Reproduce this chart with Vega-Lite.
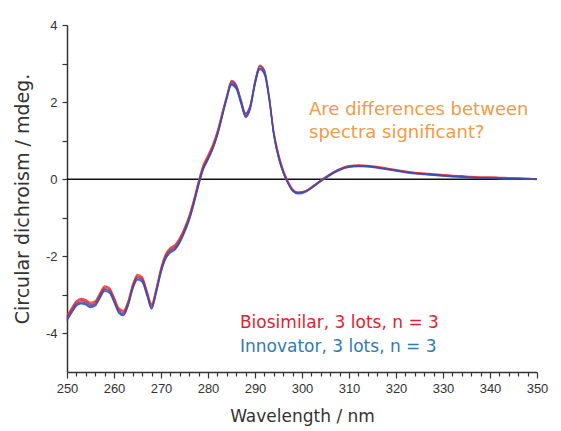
{
  "$schema": "https://vega.github.io/schema/vega-lite/v6.json",
  "width": 470,
  "height": 347,
  "autosize": "none",
  "padding": {"left": 67, "top": 25, "right": 24, "bottom": 59},
  "background": "white",
  "config": {"view": {"stroke": null}},
  "datasets": {
    "cd": [
      {"wl":250,"b1":-3.56,"b2":-3.53,"b3":-3.59,"i1":-3.62,"i2":-3.65,"i3":-3.67},
      {"wl":251,"b1":-3.36,"b2":-3.33,"b3":-3.39,"i1":-3.42,"i2":-3.45,"i3":-3.47},
      {"wl":252,"b1":-3.18,"b2":-3.15,"b3":-3.21,"i1":-3.24,"i2":-3.27,"i3":-3.29},
      {"wl":253,"b1":-3.12,"b2":-3.09,"b3":-3.15,"i1":-3.18,"i2":-3.21,"i3":-3.23},
      {"wl":254,"b1":-3.15,"b2":-3.12,"b3":-3.18,"i1":-3.21,"i2":-3.24,"i3":-3.26},
      {"wl":255,"b1":-3.22,"b2":-3.19,"b3":-3.25,"i1":-3.28,"i2":-3.31,"i3":-3.33},
      {"wl":256,"b1":-3.18,"b2":-3.15,"b3":-3.21,"i1":-3.24,"i2":-3.27,"i3":-3.29},
      {"wl":257,"b1":-2.98,"b2":-2.95,"b3":-3.01,"i1":-3.04,"i2":-3.07,"i3":-3.09},
      {"wl":258,"b1":-2.80,"b2":-2.77,"b3":-2.83,"i1":-2.86,"i2":-2.89,"i3":-2.91},
      {"wl":259,"b1":-2.84,"b2":-2.81,"b3":-2.87,"i1":-2.90,"i2":-2.93,"i3":-2.95},
      {"wl":260,"b1":-3.08,"b2":-3.05,"b3":-3.11,"i1":-3.14,"i2":-3.17,"i3":-3.19},
      {"wl":261,"b1":-3.36,"b2":-3.33,"b3":-3.39,"i1":-3.42,"i2":-3.45,"i3":-3.47},
      {"wl":262,"b1":-3.43,"b2":-3.40,"b3":-3.46,"i1":-3.49,"i2":-3.52,"i3":-3.54},
      {"wl":263,"b1":-3.18,"b2":-3.15,"b3":-3.21,"i1":-3.24,"i2":-3.27,"i3":-3.29},
      {"wl":264,"b1":-2.74,"b2":-2.71,"b3":-2.77,"i1":-2.80,"i2":-2.83,"i3":-2.85},
      {"wl":265,"b1":-2.50,"b2":-2.47,"b3":-2.53,"i1":-2.56,"i2":-2.59,"i3":-2.61},
      {"wl":266,"b1":-2.56,"b2":-2.53,"b3":-2.59,"i1":-2.62,"i2":-2.65,"i3":-2.67},
      {"wl":267,"b1":-2.91,"b2":-2.88,"b3":-2.94,"i1":-2.97,"i2":-3.00,"i3":-3.02},
      {"wl":268,"b1":-3.26,"b2":-3.23,"b3":-3.29,"i1":-3.32,"i2":-3.35,"i3":-3.37},
      {"wl":269,"b1":-2.84,"b2":-2.81,"b3":-2.87,"i1":-2.90,"i2":-2.93,"i3":-2.95},
      {"wl":270,"b1":-2.32,"b2":-2.29,"b3":-2.35,"i1":-2.38,"i2":-2.41,"i3":-2.43},
      {"wl":271,"b1":-1.96,"b2":-1.93,"b3":-1.99,"i1":-2.02,"i2":-2.05,"i3":-2.07},
      {"wl":272,"b1":-1.80,"b2":-1.77,"b3":-1.83,"i1":-1.86,"i2":-1.89,"i3":-1.91},
      {"wl":273,"b1":-1.72,"b2":-1.69,"b3":-1.75,"i1":-1.78,"i2":-1.81,"i3":-1.83},
      {"wl":274,"b1":-1.54,"b2":-1.51,"b3":-1.57,"i1":-1.60,"i2":-1.63,"i3":-1.65},
      {"wl":275,"b1":-1.28,"b2":-1.25,"b3":-1.31,"i1":-1.34,"i2":-1.37,"i3":-1.39},
      {"wl":276,"b1":-0.96,"b2":-0.93,"b3":-0.99,"i1":-1.02,"i2":-1.05,"i3":-1.07},
      {"wl":277,"b1":-0.54,"b2":-0.51,"b3":-0.57,"i1":-0.60,"i2":-0.63,"i3":-0.65},
      {"wl":278,"b1":-0.06,"b2":-0.03,"b3":-0.09,"i1":-0.12,"i2":-0.15,"i3":-0.17},
      {"wl":279,"b1":0.35,"b2":0.38,"b3":0.32,"i1":0.28,"i2":0.25,"i3":0.27},
      {"wl":280,"b1":0.60,"b2":0.63,"b3":0.57,"i1":0.53,"i2":0.50,"i3":0.52},
      {"wl":281,"b1":0.87,"b2":0.90,"b3":0.84,"i1":0.80,"i2":0.77,"i3":0.79},
      {"wl":282,"b1":1.23,"b2":1.26,"b3":1.20,"i1":1.16,"i2":1.13,"i3":1.15},
      {"wl":283,"b1":1.70,"b2":1.73,"b3":1.67,"i1":1.63,"i2":1.60,"i3":1.62},
      {"wl":284,"b1":2.15,"b2":2.18,"b3":2.12,"i1":2.10,"i2":2.14,"i3":2.07},
      {"wl":285,"b1":2.52,"b2":2.56,"b3":2.48,"i1":2.47,"i2":2.54,"i3":2.44},
      {"wl":286,"b1":2.42,"b2":2.46,"b3":2.38,"i1":2.37,"i2":2.44,"i3":2.34},
      {"wl":287,"b1":2.04,"b2":2.08,"b3":2.00,"i1":1.99,"i2":2.06,"i3":1.96},
      {"wl":288,"b1":1.68,"b2":1.72,"b3":1.64,"i1":1.63,"i2":1.70,"i3":1.60},
      {"wl":289,"b1":1.90,"b2":1.94,"b3":1.86,"i1":1.85,"i2":1.92,"i3":1.82},
      {"wl":290,"b1":2.52,"b2":2.56,"b3":2.48,"i1":2.47,"i2":2.54,"i3":2.44},
      {"wl":291,"b1":2.92,"b2":2.96,"b3":2.88,"i1":2.87,"i2":2.94,"i3":2.84},
      {"wl":292,"b1":2.80,"b2":2.84,"b3":2.76,"i1":2.75,"i2":2.82,"i3":2.72},
      {"wl":293,"b1":2.14,"b2":2.18,"b3":2.10,"i1":2.09,"i2":2.16,"i3":2.06},
      {"wl":294,"b1":1.22,"b2":1.25,"b3":1.19,"i1":1.16,"i2":1.13,"i3":1.15},
      {"wl":295,"b1":0.64,"b2":0.67,"b3":0.61,"i1":0.58,"i2":0.55,"i3":0.57},
      {"wl":296,"b1":0.23,"b2":0.25,"b3":0.21,"i1":0.18,"i2":0.16,"i3":0.17},
      {"wl":297,"b1":-0.06,"b2":-0.04,"b3":-0.07,"i1":-0.09,"i2":-0.11,"i3":-0.10},
      {"wl":298,"b1":-0.27,"b2":-0.25,"b3":-0.28,"i1":-0.29,"i2":-0.31,"i3":-0.30},
      {"wl":299,"b1":-0.34,"b2":-0.33,"b3":-0.36,"i1":-0.36,"i2":-0.38,"i3":-0.35},
      {"wl":300,"b1":-0.33,"b2":-0.32,"b3":-0.35,"i1":-0.35,"i2":-0.37,"i3":-0.34},
      {"wl":301,"b1":-0.29,"b2":-0.28,"b3":-0.30,"i1":-0.31,"i2":-0.32,"i3":-0.30},
      {"wl":302,"b1":-0.21,"b2":-0.20,"b3":-0.22,"i1":-0.23,"i2":-0.24,"i3":-0.22},
      {"wl":303,"b1":-0.12,"b2":-0.11,"b3":-0.13,"i1":-0.14,"i2":-0.15,"i3":-0.13},
      {"wl":304,"b1":-0.03,"b2":-0.02,"b3":-0.04,"i1":-0.05,"i2":-0.06,"i3":-0.04},
      {"wl":305,"b1":0.05,"b2":0.06,"b3":0.04,"i1":0.03,"i2":0.02,"i3":0.04},
      {"wl":306,"b1":0.13,"b2":0.14,"b3":0.12,"i1":0.11,"i2":0.10,"i3":0.12},
      {"wl":307,"b1":0.20,"b2":0.21,"b3":0.19,"i1":0.18,"i2":0.17,"i3":0.19},
      {"wl":308,"b1":0.26,"b2":0.27,"b3":0.25,"i1":0.24,"i2":0.23,"i3":0.25},
      {"wl":309,"b1":0.31,"b2":0.32,"b3":0.30,"i1":0.29,"i2":0.28,"i3":0.30},
      {"wl":310,"b1":0.34,"b2":0.35,"b3":0.33,"i1":0.32,"i2":0.31,"i3":0.33},
      {"wl":312,"b1":0.36,"b2":0.37,"b3":0.35,"i1":0.34,"i2":0.33,"i3":0.35},
      {"wl":314,"b1":0.35,"b2":0.36,"b3":0.34,"i1":0.33,"i2":0.32,"i3":0.34},
      {"wl":316,"b1":0.32,"b2":0.33,"b3":0.31,"i1":0.30,"i2":0.29,"i3":0.31},
      {"wl":318,"b1":0.28,"b2":0.29,"b3":0.27,"i1":0.26,"i2":0.25,"i3":0.27},
      {"wl":320,"b1":0.24,"b2":0.25,"b3":0.23,"i1":0.22,"i2":0.21,"i3":0.23},
      {"wl":322,"b1":0.20,"b2":0.21,"b3":0.19,"i1":0.18,"i2":0.17,"i3":0.19},
      {"wl":324,"b1":0.17,"b2":0.18,"b3":0.16,"i1":0.15,"i2":0.14,"i3":0.16},
      {"wl":326,"b1":0.15,"b2":0.16,"b3":0.14,"i1":0.13,"i2":0.12,"i3":0.14},
      {"wl":328,"b1":0.13,"b2":0.14,"b3":0.12,"i1":0.11,"i2":0.10,"i3":0.12},
      {"wl":330,"b1":0.11,"b2":0.12,"b3":0.10,"i1":0.09,"i2":0.08,"i3":0.10},
      {"wl":332,"b1":0.09,"b2":0.10,"b3":0.08,"i1":0.07,"i2":0.06,"i3":0.08},
      {"wl":334,"b1":0.08,"b2":0.09,"b3":0.07,"i1":0.06,"i2":0.05,"i3":0.07},
      {"wl":336,"b1":0.06,"b2":0.07,"b3":0.05,"i1":0.04,"i2":0.03,"i3":0.05},
      {"wl":338,"b1":0.05,"b2":0.06,"b3":0.04,"i1":0.03,"i2":0.02,"i3":0.04},
      {"wl":340,"b1":0.05,"b2":0.06,"b3":0.04,"i1":0.03,"i2":0.02,"i3":0.04},
      {"wl":342,"b1":0.04,"b2":0.05,"b3":0.03,"i1":0.02,"i2":0.01,"i3":0.03},
      {"wl":344,"b1":0.03,"b2":0.04,"b3":0.02,"i1":0.01,"i2":0.00,"i3":0.02},
      {"wl":346,"b1":0.03,"b2":0.03,"b3":0.02,"i1":0.01,"i2":0.01,"i3":0.02},
      {"wl":348,"b1":0.02,"b2":0.02,"b3":0.01,"i1":0.00,"i2":0.00,"i3":0.01},
      {"wl":350,"b1":0.01,"b2":0.01,"b3":0.00,"i1":-0.01,"i2":0.00,"i3":0.00}
    ],
    "notes": [
      {"wl":301.5,"v":1.79,"text":"Are differences between","kind":"q"},
      {"wl":301.5,"v":1.19,"text":"spectra significant?","kind":"q"},
      {"wl":286.8,"v":-3.74,"text":"Biosimilar, 3 lots, n = 3","kind":"bio"},
      {"wl":286.8,"v":-4.34,"text":"Innovator, 3 lots, n = 3","kind":"inn"}
    ]
  },
  "layer": [
    {
      "data": {"values": [{"v": 0}]},
      "mark": {"type": "rule", "color": "#111111", "strokeWidth": 1.5},
      "encoding": {
        "y": {
          "field": "v",
          "type": "quantitative",
          "scale": {"domain": [-5, 4], "nice": false, "zero": false},
          "axis": {
            "values": [-4, -3, -2, -1, 0, 1, 2, 3, 4],
            "tickCount": 20,
            "labelExpr": "datum.value % 2 === 0 ? toString(datum.value) : ''",
            "title": "Circular dichroism / mdeg.",
            "titleFont": "DejaVu Sans",
            "titleFontSize": 19,
            "titleFontWeight": "normal",
            "titleColor": "#333333",
            "titlePadding": 13,
            "labelFont": "Liberation Sans",
            "labelFontSize": 13,
            "labelColor": "#333333",
            "labelPadding": 5,
            "tickSize": 5,
            "tickColor": "#333333",
            "tickWidth": 1.2,
            "domainColor": "#333333",
            "domainWidth": 1.5,
            "grid": false
          }
        }
      }
    },
    {
      "data": {"name": "cd"},
      "transform": [{"fold": ["b1", "b2", "b3", "i1", "i2", "i3"], "as": ["lot", "cd"]}],
      "mark": {"type": "line", "strokeWidth": 1.3, "opacity": 0.85, "interpolate": "monotone"},
      "encoding": {
        "x": {
          "field": "wl",
          "type": "quantitative",
          "scale": {"domain": [250, 350], "nice": false, "zero": false},
          "axis": {
            "values": [250,252,254,256,258,260,262,264,266,268,270,272,274,276,278,280,282,284,286,288,290,292,294,296,298,300,302,304,306,308,310,312,314,316,318,320,322,324,326,328,330,332,334,336,338,340,342,344,346,348,350],
            "tickCount": 60,
            "labelExpr": "datum.value % 10 === 0 ? datum.label : ''",
            "title": "Wavelength / nm",
            "titleFont": "DejaVu Sans",
            "titleFontSize": 17,
            "titleFontWeight": "normal",
            "titleColor": "#333333",
            "titlePadding": 13,
            "labelFont": "Liberation Sans",
            "labelFontSize": 13,
            "labelColor": "#333333",
            "labelPadding": 4,
            "labelFlush": false,
            "labelOverlap": false,
            "tickSize": {"condition": {"test": "datum.value % 10 === 0", "value": 6}, "value": 4},
            "tickColor": "#333333",
            "tickWidth": 1.2,
            "domainColor": "#333333",
            "domainWidth": 1.5,
            "grid": false
          }
        },
        "y": {"field": "cd", "type": "quantitative"},
        "color": {
          "field": "lot",
          "type": "nominal",
          "scale": {"domain": ["b1", "b2", "b3", "i1", "i2", "i3"], "range": ["#e2262b", "#e63a30", "#d92a35", "#3b44b8", "#4a4fc0", "#3550b0"]},
          "legend": null
        }
      }
    },
    {
      "data": {"name": "notes"},
      "transform": [{"filter": "datum.kind === 'q'"}],
      "mark": {"type": "text", "align": "left", "baseline": "middle", "font": "DejaVu Sans", "fontSize": 18, "color": "#f39a45"},
      "encoding": {
        "x": {"field": "wl", "type": "quantitative"},
        "y": {"field": "v", "type": "quantitative"},
        "text": {"field": "text"}
      }
    },
    {
      "data": {"name": "notes"},
      "transform": [{"filter": "datum.kind === 'bio'"}],
      "mark": {"type": "text", "align": "left", "baseline": "middle", "font": "DejaVu Sans", "fontSize": 17, "color": "#e3202e"},
      "encoding": {
        "x": {"field": "wl", "type": "quantitative"},
        "y": {"field": "v", "type": "quantitative"},
        "text": {"field": "text"}
      }
    },
    {
      "data": {"name": "notes"},
      "transform": [{"filter": "datum.kind === 'inn'"}],
      "mark": {"type": "text", "align": "left", "baseline": "middle", "font": "DejaVu Sans", "fontSize": 17, "color": "#2e7bb5"},
      "encoding": {
        "x": {"field": "wl", "type": "quantitative"},
        "y": {"field": "v", "type": "quantitative"},
        "text": {"field": "text"}
      }
    }
  ]
}
